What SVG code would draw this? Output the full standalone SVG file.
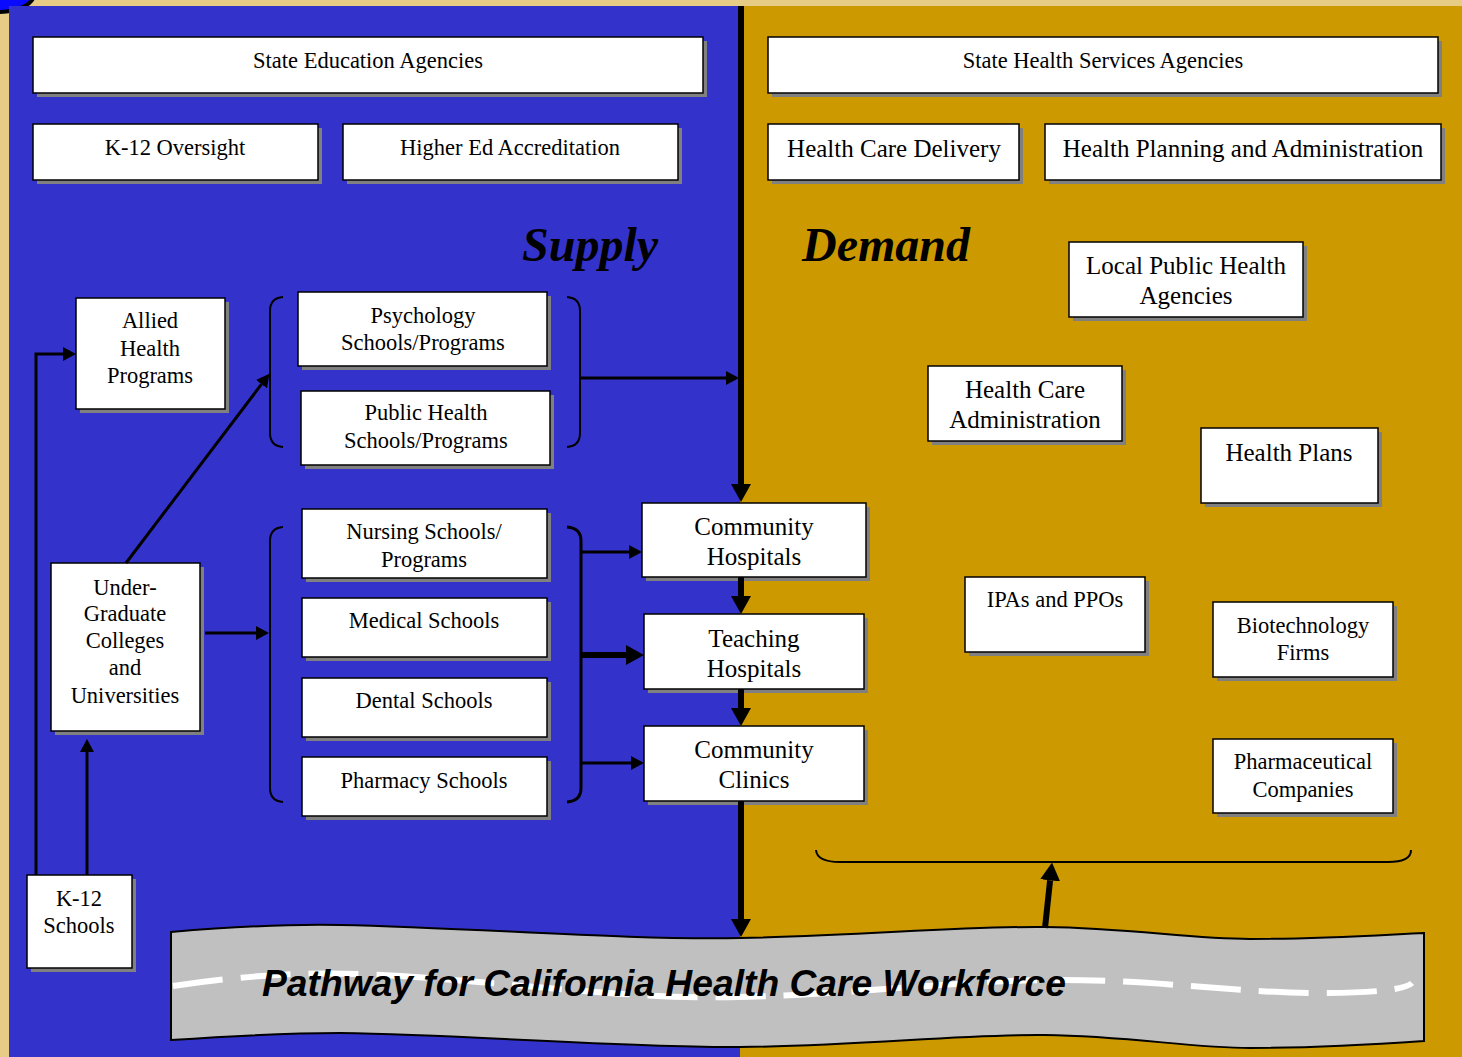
<svg xmlns="http://www.w3.org/2000/svg" width="1462" height="1057" viewBox="0 0 1462 1057">
<style>
.sh{fill:#808080}
.bx{fill:#fff;stroke:#000;stroke-width:1.5}
.t{font-family:"Liberation Serif","Times New Roman",serif;font-size:22.5px;text-anchor:middle;fill:#000}
.tl{font-size:25px}
.big{font-family:"Liberation Serif","Times New Roman",serif;font-size:48px;font-weight:bold;font-style:italic;text-anchor:middle;fill:#000}
.ln{fill:none;stroke:#000;stroke-width:3}
.lnk{fill:none;stroke:#000;stroke-width:6}
.br{fill:none;stroke:#000;stroke-width:2}
</style>
<defs>
<marker id="ah" markerUnits="userSpaceOnUse" markerWidth="13" markerHeight="14" refX="0" refY="7" orient="auto"><path d="M0,0 L13,7 L0,14 Z" fill="#000"/></marker>
<marker id="ahk" markerUnits="userSpaceOnUse" markerWidth="18" markerHeight="20" refX="0" refY="10" orient="auto"><path d="M0,0 L18,10 L0,20 Z" fill="#000"/></marker>
</defs>
<rect x="0" y="0" width="1462" height="1057" fill="#E6CC85"/>
<ellipse cx="-2" cy="-6" rx="36" ry="18" fill="#0A0AFF" stroke="#000" stroke-width="4"/>
<rect x="9" y="6" width="731" height="1051" fill="#3333CC"/>
<rect x="740" y="6" width="722" height="1051" fill="#CC9900"/>
<text class="big" x="590" y="261">Supply</text>
<text class="big" x="886" y="261">Demand</text>
<g id="braces">
<path class="br" d="M283,297 Q270,298 270,311 L270,433 Q270,446 283,447"/>
<path class="br" d="M567,297 Q580,298 580,311 L580,433 Q580,446 567,447"/>
<path class="br" d="M283,527 Q270,528 270,541 L270,788 Q270,801 283,802"/>
<path class="br" style="stroke-width:3" d="M567,527 Q581,528 581,541 L581,788 Q581,801 567,802"/>
</g>
<g id="n-state-edu"><rect class="sh" x="37" y="41" width="670" height="56"/><rect class="bx" x="33" y="37" width="670" height="56"/><text class="t" x="368" y="68">State Education Agencies</text></g>
<g id="n-k12-oversight"><rect class="sh" x="37" y="128" width="285" height="56"/><rect class="bx" x="33" y="124" width="285" height="56"/><text class="t" x="175" y="155">K-12 Oversight</text></g>
<g id="n-higher-ed"><rect class="sh" x="347" y="128" width="335" height="56"/><rect class="bx" x="343" y="124" width="335" height="56"/><text class="t" x="510" y="155">Higher Ed Accreditation</text></g>
<g id="n-state-health"><rect class="sh" x="772" y="41" width="670" height="56"/><rect class="bx" x="768" y="37" width="670" height="56"/><text class="t" x="1103" y="68">State Health Services Agencies</text></g>
<g id="n-hc-delivery"><rect class="sh" x="772" y="128" width="251" height="56"/><rect class="bx" x="768" y="124" width="251" height="56"/><text class="t tl" x="894" y="157">Health Care Delivery</text></g>
<g id="n-health-planning"><rect class="sh" x="1049" y="128" width="396" height="56"/><rect class="bx" x="1045" y="124" width="396" height="56"/><text class="t tl" x="1243" y="157">Health Planning and Administration</text></g>
<g id="n-local-ph"><rect class="sh" x="1073" y="246" width="234" height="75"/><rect class="bx" x="1069" y="242" width="234" height="75"/><text class="t tl" x="1186" y="274">Local Public Health</text><text class="t tl" x="1186" y="304">Agencies</text></g>
<g id="n-hc-admin"><rect class="sh" x="932" y="370" width="194" height="75"/><rect class="bx" x="928" y="366" width="194" height="75"/><text class="t tl" x="1025" y="398">Health Care</text><text class="t tl" x="1025" y="428">Administration</text></g>
<g id="n-health-plans"><rect class="sh" x="1205" y="432" width="177" height="75"/><rect class="bx" x="1201" y="428" width="177" height="75"/><text class="t tl" x="1289" y="461">Health Plans</text></g>
<g id="n-ipas"><rect class="sh" x="969" y="581" width="180" height="75"/><rect class="bx" x="965" y="577" width="180" height="75"/><text class="t" x="1055" y="607">IPAs and PPOs</text></g>
<g id="n-biotech"><rect class="sh" x="1217" y="606" width="180" height="75"/><rect class="bx" x="1213" y="602" width="180" height="75"/><text class="t" x="1303" y="633">Biotechnology</text><text class="t" x="1303" y="660">Firms</text></g>
<g id="n-pharma"><rect class="sh" x="1217" y="743" width="180" height="74"/><rect class="bx" x="1213" y="739" width="180" height="74"/><text class="t" x="1303" y="769">Pharmaceutical</text><text class="t" x="1303" y="797">Companies</text></g>
<g id="n-allied"><rect class="sh" x="80" y="302" width="149" height="111"/><rect class="bx" x="76" y="298" width="149" height="111"/><text class="t" x="150" y="328">Allied</text><text class="t" x="150" y="356">Health</text><text class="t" x="150" y="383">Programs</text></g>
<g id="n-psych"><rect class="sh" x="302" y="296" width="249" height="74"/><rect class="bx" x="298" y="292" width="249" height="74"/><text class="t" x="423" y="323">Psychology</text><text class="t" x="423" y="350">Schools/Programs</text></g>
<g id="n-pubhealth"><rect class="sh" x="305" y="395" width="249" height="74"/><rect class="bx" x="301" y="391" width="249" height="74"/><text class="t" x="426" y="420">Public Health</text><text class="t" x="426" y="448">Schools/Programs</text></g>
<g id="n-nursing"><rect class="sh" x="306" y="513" width="245" height="69"/><rect class="bx" x="302" y="509" width="245" height="69"/><text class="t" x="424" y="539">Nursing Schools/</text><text class="t" x="424" y="567">Programs</text></g>
<g id="n-medical"><rect class="sh" x="306" y="602" width="245" height="59"/><rect class="bx" x="302" y="598" width="245" height="59"/><text class="t" x="424" y="628">Medical Schools</text></g>
<g id="n-dental"><rect class="sh" x="306" y="682" width="245" height="59"/><rect class="bx" x="302" y="678" width="245" height="59"/><text class="t" x="424" y="708">Dental Schools</text></g>
<g id="n-pharmacy"><rect class="sh" x="306" y="761" width="245" height="59"/><rect class="bx" x="302" y="757" width="245" height="59"/><text class="t" x="424" y="788">Pharmacy Schools</text></g>
<g id="n-comm-hosp"><rect class="sh" x="646" y="507" width="224" height="74"/><rect class="bx" x="642" y="503" width="224" height="74"/><text class="t tl" x="754" y="535">Community</text><text class="t tl" x="754" y="565">Hospitals</text></g>
<g id="n-teaching"><rect class="sh" x="648" y="618" width="220" height="75"/><rect class="bx" x="644" y="614" width="220" height="75"/><text class="t tl" x="754" y="647">Teaching</text><text class="t tl" x="754" y="677">Hospitals</text></g>
<g id="n-clinics"><rect class="sh" x="648" y="730" width="220" height="75"/><rect class="bx" x="644" y="726" width="220" height="75"/><text class="t tl" x="754" y="758">Community</text><text class="t tl" x="754" y="788">Clinics</text></g>
<g id="n-undergrad"><rect class="sh" x="55" y="567" width="149" height="168"/><rect class="bx" x="51" y="563" width="149" height="168"/><text class="t" x="125" y="595">Under-</text><text class="t" x="125" y="621">Graduate</text><text class="t" x="125" y="648">Colleges</text><text class="t" x="125" y="675">and</text><text class="t" x="125" y="703">Universities</text></g>
<g id="n-k12-schools"><rect class="sh" x="31" y="879" width="105" height="93"/><rect class="bx" x="27" y="875" width="105" height="93"/><text class="t" x="79" y="906">K-12</text><text class="t" x="79" y="933">Schools</text></g>
<g id="n-pathway">
<path d="M171,932 C230,927 290,924 340,925 C480,928 620,940 740,938 C860,936 960,926 1045,927 C1130,928 1190,939 1250,939 C1320,939 1380,935 1424,933 L1424,1041 C1380,1044 1320,1048 1250,1048 C1190,1048 1130,1036 1045,1035 C960,1034 860,1046 740,1047 C620,1048 480,1035 340,1033 C290,1033 230,1036 171,1040 Z" fill="#C0C0C0" stroke="#000" stroke-width="2"/>
<path d="M173,986 C240,976 300,972 360,974 C500,980 620,1000 740,997 C860,994 960,980 1060,980 C1160,980 1240,993 1320,993 C1370,993 1405,990 1412,983" fill="none" stroke="#fff" stroke-width="6" stroke-dasharray="50 18"/>
<text x="664" y="996" font-family="'Liberation Sans',Arial,sans-serif" font-size="37" font-weight="bold" font-style="italic" text-anchor="middle" fill="#000" textLength="804" lengthAdjust="spacingAndGlyphs">Pathway for California Health Care Workforce</text>
</g>
<path id="demand-brace" class="br" d="M816,850 Q817,862 840,862 L1388,862 Q1411,862 1411,850"/>
<g id="connectors">
<polyline class="ln" points="36,875 36,354 63,354" marker-end="url(#ah)"/>
<line class="ln" x1="87" y1="875" x2="87" y2="752" marker-end="url(#ah)"/>
<line class="ln" x1="126" y1="563" x2="261.5" y2="384.2" marker-end="url(#ah)"/>
<line class="ln" x1="580" y1="378" x2="726" y2="378" marker-end="url(#ah)"/>
<line class="ln" x1="205" y1="633" x2="256" y2="633" marker-end="url(#ah)"/>
<line class="ln" x1="581" y1="552" x2="629" y2="552" marker-end="url(#ah)"/>
<line class="lnk" x1="581" y1="655" x2="626" y2="655" marker-end="url(#ahk)"/>
<line class="ln" x1="581" y1="763" x2="631" y2="763" marker-end="url(#ah)"/>
<line class="lnk" x1="741" y1="6" x2="741" y2="484" marker-end="url(#ahk)"/>
<line class="lnk" x1="741" y1="577" x2="741" y2="596" marker-end="url(#ahk)"/>
<line class="lnk" x1="741" y1="689" x2="741" y2="708" marker-end="url(#ahk)"/>
<line class="lnk" x1="741" y1="801" x2="741" y2="919" marker-end="url(#ahk)"/>
<line class="lnk" x1="1045" y1="928" x2="1050.1" y2="880.3" marker-end="url(#ahk)"/>
</g>
</svg>
